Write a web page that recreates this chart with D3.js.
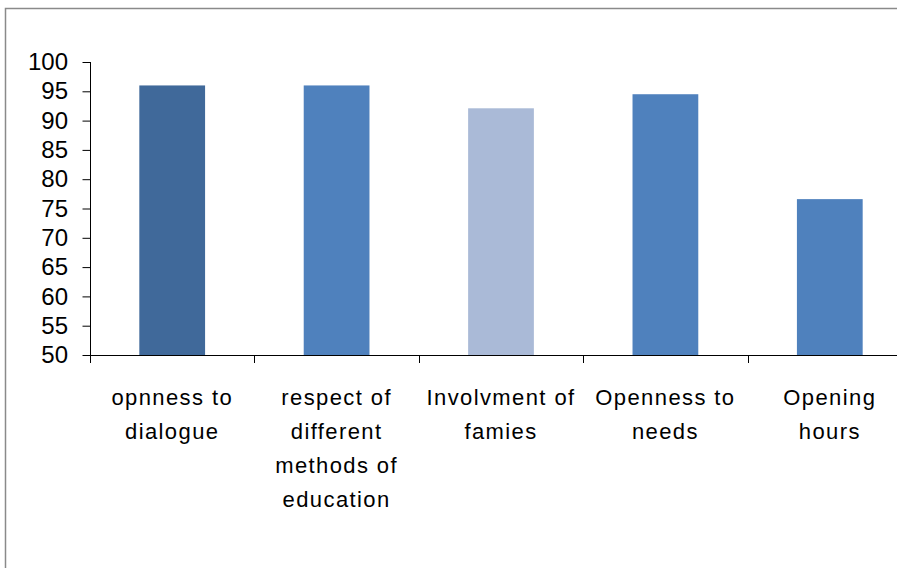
<!DOCTYPE html>
<html>
<head>
<meta charset="utf-8">
<script src="https://cdn.jsdelivr.net/npm/d3@7"></script>
<style>
  body { margin: 0; background: #fff; }
  text { font-family: "Liberation Sans", Arial, sans-serif; fill: #000; }
</style>
</head>
<body>
<div id="chart"></div>
<script>
// podaci
const categories = [
  "opnness to\ndialogue",
  "respect of\ndifferent\nmethods of\neducation",
  "Involvment of\nfamies",
  "Openness to\nneeds",
  "Opening\nhours"
];
const values = [96, 96, 92.1, 94.5, 76.6];
const barColors = ["#40699a", "#4f81bd", "#aabad7", "#4f81bd", "#4f81bd"];
const yTicks = [50, 55, 60, 65, 70, 75, 80, 85, 90, 95, 100];

const size = {width: 897, height: 568};
const margin = {top: 62, left: 90};
const plotH = 293, plotW = 822;

const svg = d3.select("#chart").append("svg")
  .attr("width", size.width)
  .attr("height", size.height);

// okvir (frame)
svg.append("path")
  .attr("d", "M5.5," + size.height + "V8.5H" + size.width)
  .attr("fill", "none")
  .attr("stroke", "#8a8a8a")
  .attr("stroke-width", 1.5);

const g = svg.append("g")
  .attr("transform", "translate(" + margin.left + "," + margin.top + ")");

const xScale = d3.scaleBand()
  .domain(categories)
  .range([0, plotW])
  .paddingInner(0.6)
  .paddingOuter(0.3);

const yScale = d3.scaleLinear()
  .domain([50, 100])
  .range([plotH, 0]);

// stupci
g.selectAll(".bar")
  .data(values)
  .join("rect")
  .attr("class", "bar")
  .attr("x", (d, i) => xScale(categories[i]))
  .attr("width", xScale.bandwidth())
  .attr("y", d => yScale(d))
  .attr("height", d => yScale(50) - yScale(d))
  .attr("fill", (d, i) => barColors[i]);

// y os
const yAxis = g.append("g")
  .call(d3.axisLeft(yScale).tickValues(yTicks).tickSize(8).tickPadding(14).tickSizeOuter(8));
yAxis.select(".domain").remove();
yAxis.append("line")
  .attr("x1", 0.5).attr("x2", 0.5)
  .attr("y1", 0).attr("y2", plotH + 8)
  .attr("stroke", "#000");
yAxis.selectAll(".tick line").attr("stroke", "#000").attr("transform", "translate(0.5,0)");
yAxis.selectAll(".tick text")
  .style("font-family", "'Liberation Sans', Arial, sans-serif")
  .style("font-size", "24px")
  .attr("fill", "#000");

// x os
const xAxisG = g.append("g").attr("transform", "translate(0," + plotH + ")");
xAxisG.append("line")
  .attr("x1", 0).attr("x2", plotW)
  .attr("y1", 0.5).attr("y2", 0.5)
  .attr("stroke", "#000");

const step = xScale.step();
const x0 = xScale(categories[0]) - step * xScale.paddingOuter();
xAxisG.selectAll(".xTick")
  .data(categories)
  .join("line")
  .attr("class", "xTick")
  .attr("x1", (d, i) => Math.round(x0 + i * step) + 0.5)
  .attr("x2", (d, i) => Math.round(x0 + i * step) + 0.5)
  .attr("y1", 0).attr("y2", 8)
  .attr("stroke", "#000");

const labels = xAxisG.selectAll(".xLabel")
  .data(categories)
  .join("text")
  .attr("class", "xLabel")
  .attr("text-anchor", "middle")
  .style("font-size", "22px")
  .style("letter-spacing", "1.4px")
  .attr("transform", d => "translate(" + (xScale(d) + xScale.bandwidth() / 2) + ",50)");

labels.selectAll("tspan")
  .data(d => d.split("\n"))
  .join("tspan")
  .attr("x", 0)
  .attr("y", (d, i) => i * 34)
  .text(d => d);
</script>
</body>
</html>
